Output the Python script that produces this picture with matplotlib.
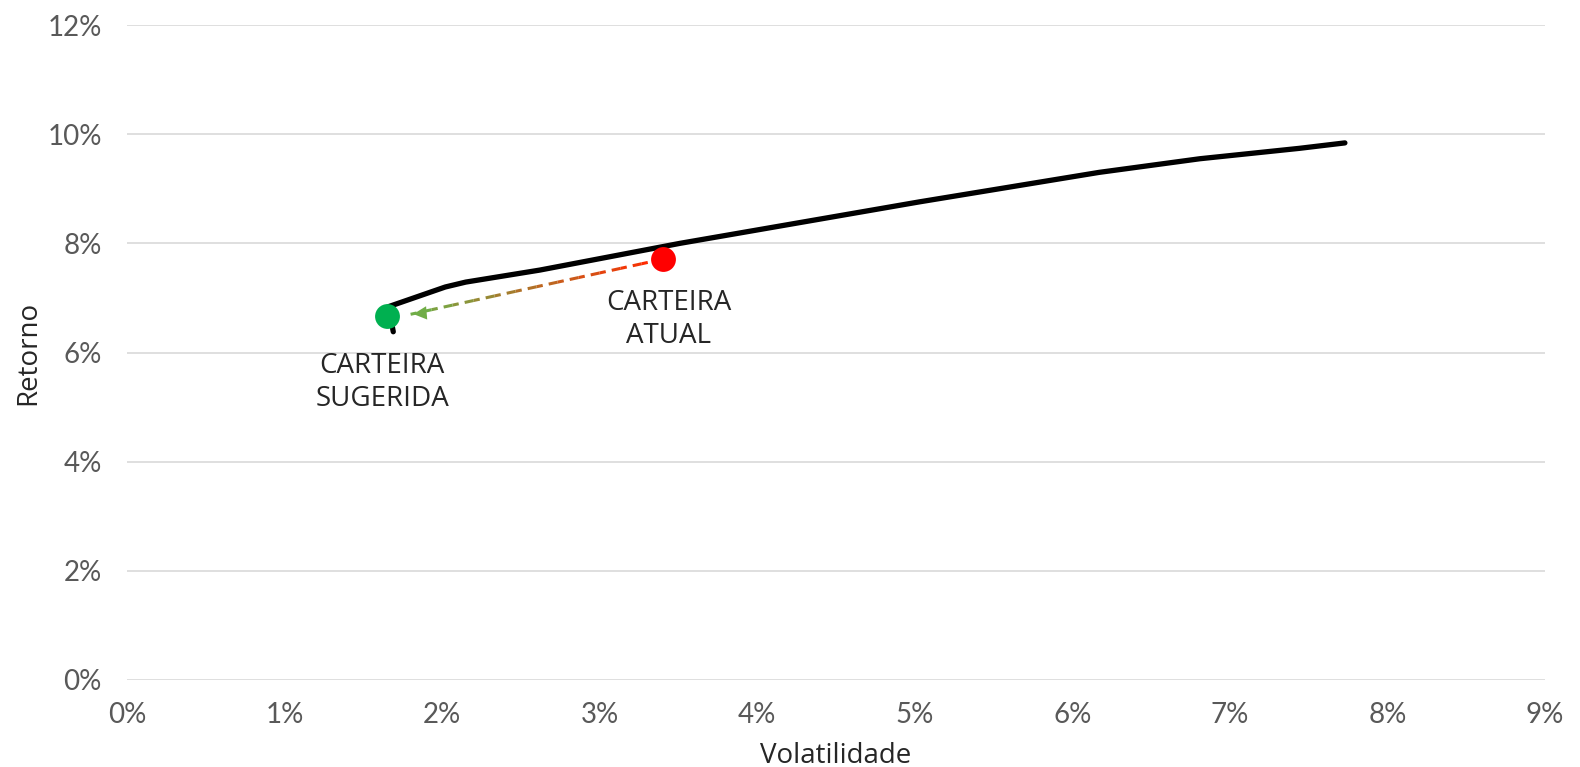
import matplotlib.pyplot as plt
import numpy as np
from matplotlib.colors import to_rgb

# Efficient frontier (volatility %, return %)
frontier_vol = [1.69, 1.66, 1.85, 2.02, 2.15, 2.62, 3.51, 5.03, 6.17, 6.81, 7.44, 7.73]
frontier_ret = [6.38, 6.84, 7.03, 7.20, 7.29, 7.51, 8.00, 8.76, 9.30, 9.55, 9.74, 9.84]

# Portfolios
atual = (3.40, 7.71)
sugerida = (1.65, 6.66)
arrow_tip = (1.80, 6.70)

x_ticks = list(range(0, 10))
y_ticks = list(range(0, 13, 2))

plt.rcParams['font.family'] = ['Lato', 'DejaVu Sans']
label_font = ['Open Sans', 'DejaVu Sans']

fig = plt.figure(figsize=(15.8, 7.67), dpi=100)
ax = fig.add_axes([127 / 1580, 1 - 680 / 767, (1545 - 127) / 1580, (680 - 25) / 767])

ax.set_xlim(0, 9)
ax.set_ylim(0, 12)
ax.set_xticks(x_ticks)
ax.set_yticks(y_ticks)
ax.set_xticklabels([f'{t}%' for t in x_ticks])
ax.set_yticklabels([f'{t}%' for t in y_ticks])
ax.tick_params(length=0, labelsize=20, labelcolor='#595959')
ax.tick_params(axis='x', pad=16)
ax.tick_params(axis='y', pad=18)
ax.grid(axis='y', color='#d9d9d9', linewidth=1.2)
ax.set_axisbelow(True)
for s in ax.spines.values():
    s.set_visible(False)

ax.plot(frontier_vol, frontier_ret, color='black', linewidth=3.8,
        solid_capstyle='round', solid_joinstyle='round', zorder=3)

# gradient dashed arrow from current to suggested portfolio
n = 12
c0 = np.array(to_rgb('#ff2a00'))
c1 = np.array(to_rgb('#70ad47'))
xs = np.linspace(atual[0], arrow_tip[0], n + 1)
ys = np.linspace(atual[1], arrow_tip[1], n + 1)
for i in range(n):
    col = c0 + (c1 - c0) * i / (n - 1)
    ax.plot(xs[i:i + 2], ys[i:i + 2], color=col, linewidth=2.2, linestyle=(0, (3, 2)), zorder=4)
ax.annotate('', xy=arrow_tip, xytext=(arrow_tip[0] + 0.1, arrow_tip[1] + 0.025),
            arrowprops=dict(arrowstyle='-|>', color='#70ad47', mutation_scale=24, lw=0), zorder=4)

ax.scatter([atual[0]], [atual[1]], s=320, color='#ff0000', zorder=5, linewidths=0)
ax.scatter([sugerida[0]], [sugerida[1]], s=320, color='#00b050', zorder=5, linewidths=0)

ax.text(3.44, 6.60, 'CARTEIRA\nATUAL', ha='center', va='center', fontsize=20,
        color='#262626', linespacing=1.25, family=label_font)
ax.text(1.62, 5.45, 'CARTEIRA\nSUGERIDA', ha='center', va='center', fontsize=20,
        color='#262626', linespacing=1.25, family=label_font)

ax.set_xlabel('Volatilidade', fontsize=20, color='#262626', labelpad=10, family=label_font)
ax.set_ylabel('Retorno', fontsize=20, color='#262626', labelpad=4, family=label_font)

fig.savefig('out.png', dpi=100)
